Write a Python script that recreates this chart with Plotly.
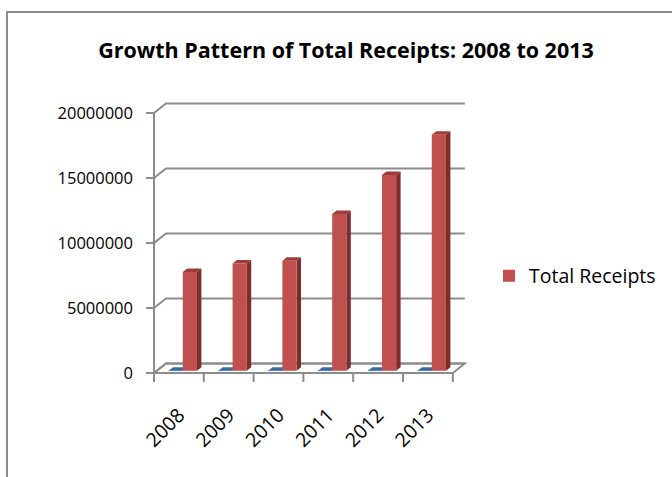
import plotly.graph_objects as go

# ---- data -------------------------------------------------------------
years = ["2008", "2009", "2010", "2011", "2012", "2013"]
year_series = [2008, 2009, 2010, 2011, 2012, 2013]
total_receipts = [7600000, 8250000, 8450000, 12050000, 15050000, 18150000]
y_tick_values = [0, 5000000, 10000000, 15000000, 20000000]
y_tick_labels = ["0", "5000000", "10000000", "15000000", "20000000"]

# ---- canvas / axis geometry --------------------------------------------
W, H = 672, 477
L, R, T, B = 134, 194, 90, 87
plot_w = W - L - R
plot_h = H - T - B
PX_PER_CAT = 49.8          # pixels per category
PX_PER_VAL = 13.0 / 1e6    # pixels per unit of value
ORIGIN_X_PX = 154
ORIGIN_Y_PX = 373

x_lo = -(ORIGIN_X_PX - L) / PX_PER_CAT
x_range = [x_lo, x_lo + plot_w / PX_PER_CAT]
y_range = [-((H - B) - ORIGIN_Y_PX) / PX_PER_VAL, (ORIGIN_Y_PX - T) / PX_PER_VAL]

# oblique depth offsets of the pseudo-3D box
DX = 12 / PX_PER_CAT
DY = 9.5 / PX_PER_VAL
Z0, Z1 = 0.24, 0.61        # depth span of the columns
BAR_W = 0.285
N = len(years)

GRID = "#8c8c8c"
RED, RED_SIDE, RED_TOP = "#c0504d", "#7b2e2c", "#9e3c39"
BLUE, BLUE_SIDE, BLUE_TOP = "#4f81bd", "#2f5587", "#3d6aa3"
FONT = "Open Sans"


def proj(x, v, z):
    return x + z * DX, v + z * DY


def poly(points):
    pts = [proj(*p) for p in points]
    return "M " + " L ".join(f"{x},{y}" for x, y in pts) + " Z"


def line_path(points):
    return "M " + " L ".join(f"{x},{y}" for x, y in points)


shapes = []

# floor
shapes.append(dict(type="path", xref="x", yref="y", layer="below",
                   path=poly([(0, 0, 0), (N, 0, 0), (N, 0, 1), (0, 0, 1)]),
                   fillcolor="white", line=dict(color=GRID, width=2)))

# back-wall gridlines with their oblique left ends and small ticks
for v in y_tick_values:
    shapes.append(dict(type="path", xref="x", yref="y", layer="below",
                       path=line_path([(0, v), (DX, v + DY), (N + DX, v + DY)]),
                       line=dict(color=GRID, width=2)))
    shapes.append(dict(type="line", xref="x", yref="y", layer="below",
                       x0=-8 / PX_PER_CAT, x1=0, y0=v, y1=v,
                       line=dict(color=GRID, width=2)))

# front value axis
shapes.append(dict(type="line", xref="x", yref="y", layer="below",
                   x0=0, x1=0, y0=0, y1=y_tick_values[-1],
                   line=dict(color=GRID, width=2)))

# category tick marks
for k in range(N + 1):
    shapes.append(dict(type="line", xref="x", yref="y", layer="below",
                       x0=k, x1=k, y0=0, y1=-9 / PX_PER_VAL,
                       line=dict(color=GRID, width=2)))


def column_faces(offset, values, side_col, top_col):
    for i, v in enumerate(values):
        xl = i + offset
        xr = xl + BAR_W
        shapes.append(dict(type="path", xref="x", yref="y", layer="below",
                           path=poly([(xr, 0, Z0), (xr, v, Z0), (xr, v, Z1), (xr, 0, Z1)]),
                           fillcolor=side_col, line=dict(width=0)))
        shapes.append(dict(type="path", xref="x", yref="y", layer="below",
                           path=poly([(xl, v, Z0), (xr, v, Z0), (xr, v, Z1), (xl, v, Z1)]),
                           fillcolor=top_col, line=dict(width=0)))


BLUE_OFF, RED_OFF = 0.235, 0.52
column_faces(BLUE_OFF, year_series, BLUE_SIDE, BLUE_TOP)
column_faces(RED_OFF, total_receipts, RED_SIDE, RED_TOP)

fig = go.Figure()
fig.add_trace(go.Bar(
    x=[i + BLUE_OFF + BAR_W / 2 + Z0 * DX for i in range(N)],
    y=year_series, base=[Z0 * DY] * N, width=BAR_W,
    marker=dict(color=BLUE, line=dict(width=0)),
    name="Year", showlegend=False, hoverinfo="skip"))
fig.add_trace(go.Bar(
    x=[i + RED_OFF + BAR_W / 2 + Z0 * DX for i in range(N)],
    y=total_receipts, base=[Z0 * DY] * N, width=BAR_W,
    marker=dict(color=RED, line=dict(width=0)),
    name="Total Receipts", showlegend=True))

# outer chart frame
shapes.append(dict(type="rect", xref="paper", yref="paper", layer="above",
                   x0=(7 - L) / plot_w, x1=(720 - L) / plot_w,
                   y0=((H - B) - 12) / plot_h, y1=((H - B) - 520) / plot_h,
                   line=dict(color=GRID, width=2), fillcolor="rgba(0,0,0,0)"))

fig.update_layout(
    width=W, height=H,
    margin=dict(l=L, r=R, t=T, b=B, pad=0, autoexpand=False),
    paper_bgcolor="white", plot_bgcolor="white",
    barmode="overlay",
    shapes=shapes,
    title=dict(text="Growth Pattern of Total Receipts: 2008 to 2013",
               font=dict(family=FONT, size=21.5, color="black", weight="bold"),
               x=346 / W, xanchor="center", xref="container",
               y=1 - 50 / H, yanchor="middle", yref="container"),
    xaxis=dict(range=x_range, showgrid=False, zeroline=False, showline=False,
               tickmode="array", tickvals=[i + 0.5 for i in range(N)], ticktext=years,
               tickangle=-45, ticks="", ticklabelstandoff=9,
               tickfont=dict(family=FONT, size=19.5, color="black")),
    yaxis=dict(range=y_range, showgrid=False, zeroline=False, showline=False,
               tickmode="array", tickvals=y_tick_values, ticktext=y_tick_labels,
               ticks="", tickfont=dict(family=FONT, size=16.5, color="black")),
    legend=dict(x=489 / W, xanchor="left", xref="container",
                y=1 - 276 / H, yanchor="middle", yref="container",
                font=dict(family=FONT, size=19.5, color="black"),
                bgcolor="rgba(0,0,0,0)"),
)

fig.write_html("out.html")
